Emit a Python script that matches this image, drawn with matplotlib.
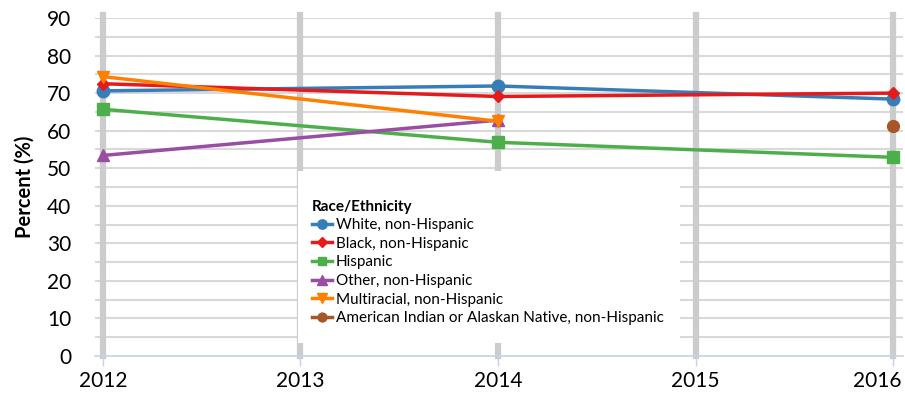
import matplotlib
matplotlib.use("Agg")
import matplotlib.pyplot as plt
import matplotlib.transforms as mtransforms
from matplotlib.patches import Rectangle
import numpy as np

years = [2012, 2013, 2014, 2015, 2016]
x_labels = ["2012", "2013", "2014", "2015", "2016"]

white_years = [2012, 2014, 2016]
white_vals = [70.6, 71.9, 68.4]
black_years = [2012, 2014, 2016]
black_vals = [72.5, 69.1, 70.0]
hisp_years = [2012, 2014, 2016]
hisp_vals = [65.7, 56.9, 52.9]
other_years = [2012, 2014]
other_vals = [53.4, 62.8]
multi_years = [2012, 2014]
multi_vals = [74.4, 62.5]
aian_years = [2016]
aian_vals = [61.2]

series = [
    ("White, non-Hispanic", white_years, white_vals, "#377eb8", "o", 9),
    ("Black, non-Hispanic", black_years, black_vals, "#e41a1c", "D", 6.5),
    ("Hispanic", hisp_years, hisp_vals, "#4daf4a", "s", 8.5),
    ("Other, non-Hispanic", other_years, other_vals, "#984ea3", "^", 9),
    ("Multiracial, non-Hispanic", multi_years, multi_vals, "#ff7f00", "v", 9),
    ("American Indian or Alaskan Native, non-Hispanic", aian_years, aian_vals, "#a65628", "o", 8.5),
]

plt.rcParams['font.family'] = ['Lato', 'DejaVu Sans']

W, H = 905, 403
fig = plt.figure(figsize=(W/100, H/100), dpi=100)
ax_l, ax_r, ax_b, ax_t = 95, 903, 356, 18
ax = fig.add_axes([ax_l/W, (H-ax_b)/H, (ax_r-ax_l)/W, (ax_b-ax_t)/H])

ax.set_xlim(2011.96, 2016.05)
ax.set_ylim(0, 90)

# gridlines
for yv in np.arange(5, 91, 5):
    ax.axhline(yv, color="#d9d9d9", lw=1.5, zorder=0)
for xv in years:
    ax.axvline(xv, color="#cccccc", lw=4.5, zorder=0.5, ymax=1.008, clip_on=False)

# white legend background box
def px2ax(px, py):
    return ((px - ax_l) / (ax_r - ax_l), (ax_b - py) / (ax_b - ax_t))
bx0, by0 = px2ax(298, 343)
bx1, by1 = px2ax(680, 171)
ax.add_patch(Rectangle((bx0, by0), bx1 - bx0, by1 - by0, transform=ax.transAxes,
                       facecolor="white", edgecolor="none", zorder=1.5))

handles = []
for name, xs, ys, col, mk, ms in series:
    h, = ax.plot(xs, ys, color=col, marker=mk, markersize=ms, lw=2.5, label=name, zorder=3)
    handles.append(h)

ax.set_xticks(years)
ax.set_xticklabels(x_labels, fontsize=15)
ax.set_yticks(np.arange(0, 91, 10))
ax.tick_params(axis='y', length=0, labelsize=15, pad=17)
ax.tick_params(axis='x', length=7, color="#c5d3e3", width=1, pad=4)
for s in ["top", "right", "left"]:
    ax.spines[s].set_visible(False)
ax.spines["bottom"].set_color("#c5d3e3")
ax.spines["bottom"].set_linewidth(1.2)
ax.spines["bottom"].set_zorder(1)

# shift last x label left so it fits
lbl = ax.get_xticklabels()[-1]
lbl.set_transform(lbl.get_transform() + mtransforms.ScaledTranslation(-16/100, 0, fig.dpi_scale_trans))

ax.set_ylabel("Percent (%)", fontsize=14.5, fontweight="bold", labelpad=9)

lx, ly = px2ax(304, 192)
leg = ax.legend(handles=handles, title="Race/Ethnicity", loc="upper left",
                bbox_to_anchor=(lx, ly), fontsize=11,
                title_fontproperties={"weight": "bold", "size": 11},
                frameon=False,
                handlelength=1.3, handletextpad=0.3, labelspacing=0.3,
                borderpad=0.0, markerscale=0.75, alignment="left")
leg.set_zorder(2)

fig.savefig("out.png", dpi=100)
